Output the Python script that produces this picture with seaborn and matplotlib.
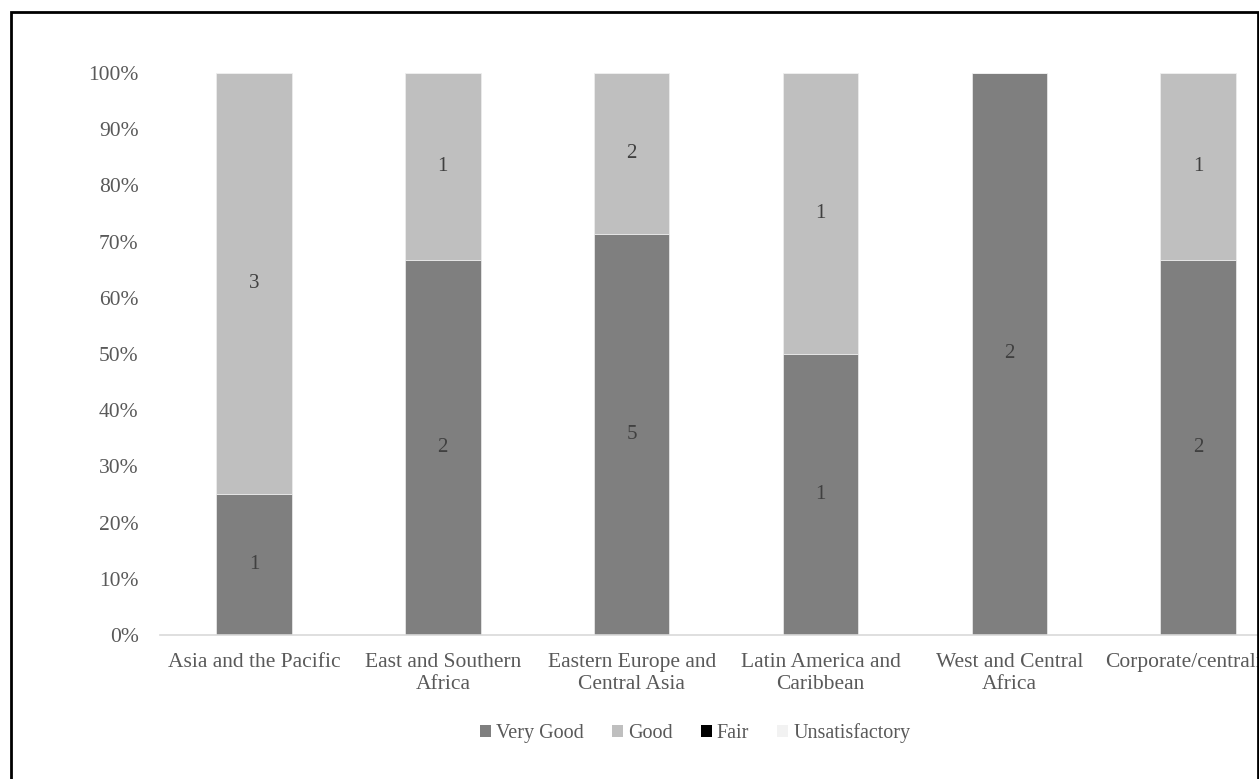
import numpy as np
import pandas as pd
import matplotlib
matplotlib.use("Agg")
import matplotlib.pyplot as plt
import seaborn as sns
from matplotlib.patches import Patch, Rectangle

# data
regions = ["Asia and the Pacific", "East and Southern\nAfrica",
           "Eastern Europe and\nCentral Asia", "Latin America and\nCaribbean",
           "West and Central\nAfrica", "Corporate/centralized"]
very_good = [1, 2, 5, 1, 2, 2]
good = [3, 1, 2, 1, 0, 1]
fair = [0, 0, 0, 0, 0, 0]
unsatisfactory = [0, 0, 0, 0, 0, 0]

series = ["Very Good", "Good", "Fair", "Unsatisfactory"]
colors = ["#7f7f7f", "#bfbfbf", "#000000", "#f2f2f2"]

counts = pd.DataFrame({"Very Good": very_good, "Good": good,
                       "Fair": fair, "Unsatisfactory": unsatisfactory},
                      index=regions)
share = counts.div(counts.sum(axis=1), axis=0) * 100

sns.set_style("white")
plt.rcParams["font.family"] = ["Liberation Serif", "DejaVu Serif"]

fig = plt.figure(figsize=(12.59, 7.79), dpi=100)
ax = fig.add_axes([0.1267, 0.1849, 0.900, 0.7214])

bottom = np.zeros(len(regions))
for name, col in zip(series, colors):
    sns.barplot(x=list(range(len(regions))), y=share[name].values, bottom=bottom,
                color=col, width=0.4, ax=ax, saturation=1, native_scale=True,
                edgecolor="#eeeeee", linewidth=0.5)
    # count labels in the middle of each segment
    for i, (v, n) in enumerate(zip(share[name].values, counts[name].values)):
        if n > 0:
            ax.text(i, bottom[i] + v / 2, str(n), ha="center", va="center",
                    fontsize=15, color="#404040")
    bottom = bottom + share[name].values

ax.set_xlim(-0.5, len(regions) - 0.5)
ax.set_ylim(0, 100)
ax.set_yticks(np.arange(0, 101, 10))
ax.set_yticklabels([f"{t}%" for t in range(0, 101, 10)])
ax.set_xticks(range(len(regions)))
ax.set_xticklabels(regions, linespacing=1.18)
ax.tick_params(axis="both", length=0, labelsize=15.5, labelcolor="#595959")
ax.tick_params(axis="x", pad=13)
ax.tick_params(axis="y", pad=15)
ax.set_xlabel("")
ax.set_ylabel("")
for s in ["top", "right", "left"]:
    ax.spines[s].set_visible(False)
ax.spines["bottom"].set_color("#d9d9d9")
ax.spines["bottom"].set_linewidth(1.2)

handles = [Patch(facecolor=c, edgecolor="none") for c in colors]
fig.legend(handles, series, loc="center", bbox_to_anchor=(0.552, 0.059), ncol=4,
           frameon=False, fontsize=14.5, labelcolor="#595959", handlelength=0.55,
           handleheight=0.55, handletextpad=0.25, columnspacing=1.4)

# chart frame
fig.patches.append(Rectangle((11 / 1259, -0.05), 1247 / 1259, 1.05 - 12 / 779,
                             transform=fig.transFigure, fill=False,
                             edgecolor="black", linewidth=2))

fig.savefig("out.png", dpi=100)
